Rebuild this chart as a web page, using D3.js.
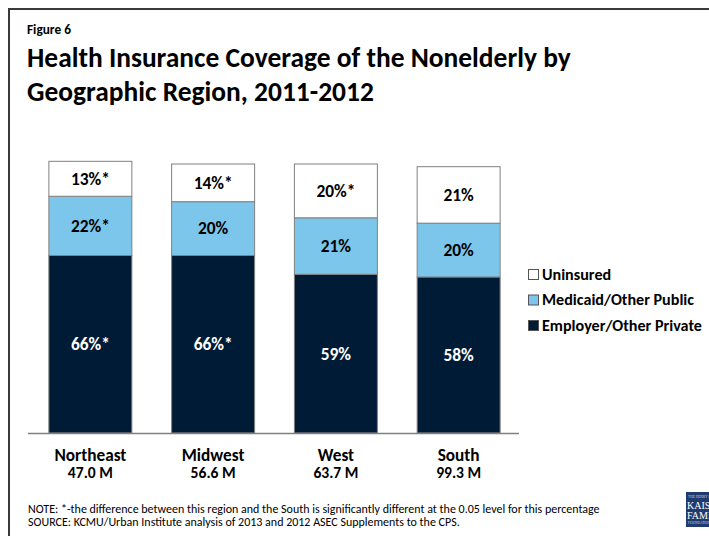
<!DOCTYPE html>
<html>
<head>
<meta charset="utf-8">
<script src="https://cdn.jsdelivr.net/npm/d3@7"></script>
<style>
  html, body { margin: 0; padding: 0; background: #fff; }
  svg { display: block; font-family: Carlito, Lato, "Open Sans", sans-serif; }
</style>
</head>
<body>
<svg id="chart" width="709" height="536"></svg>
<script>
// Regions and their nonelderly population
const regions = ["Northeast", "Midwest", "West", "South"];
const populations = ["47.0 M", "56.6 M", "63.7 M", "99.3 M"];

// Coverage shares (%) per region, bottom to top
const privateShare = [66, 66, 59, 58];
const publicShare = [22, 20, 21, 20];
const uninsuredShare = [13, 14, 20, 21];

// Significance flags (difference vs. the South)
const privateFlag = ["*", "*", "", ""];
const publicFlag = ["*", "", "", ""];
const uninsuredFlag = ["*", "*", "*", ""];

const seriesNames = ["Employer/Other Private", "Medicaid/Other Public", "Uninsured"];
const legendOrder = ["Uninsured", "Medicaid/Other Public", "Employer/Other Private"];
const colors = ["#001b36", "#7cc6ec", "#ffffff"];

const svg = d3.select("#chart");

// Size a font so that a sample string spans the given width
function sizeFor(sample, width, weight) {
  const t = svg.append("text").attr("font-size", 20)
    .attr("font-weight", weight || "normal")
    .text(sample);
  const w = t.node().getComputedTextLength();
  t.remove();
  return 20 * width / w;
}

// Frame
svg.append("path")
  .attr("d", "M9,536 V9 H709")
  .attr("fill", "none")
  .attr("stroke", "#3a3a3a")
  .attr("stroke-width", 2);

// Heading
const titleLines = ["Health Insurance Coverage of the Nonelderly by", "Geographic Region, 2011-2012"];
const titleSize = sizeFor(titleLines[0], 544, "bold");
svg.append("text").attr("x", 27).attr("y", 34)
  .attr("font-size", sizeFor("Figure 6", 44, "bold")).attr("font-weight", "bold").attr("fill", "#000")
  .text("Figure 6");
titleLines.forEach((line, i) => {
  svg.append("text").attr("x", 27).attr("y", 67 + i * 34)
    .attr("font-size", titleSize).attr("font-weight", "bold").attr("fill", "#000")
    .text(line);
});

// Scales
const x = d3.scaleBand().domain(regions).range([28, 521])
  .paddingInner(0.324).paddingOuter(0.17);
const y = d3.scaleLinear().domain([0, 100]).range([433, 164]);

const rows = regions.map((r, i) => ({
  region: r,
  "Employer/Other Private": privateShare[i],
  "Medicaid/Other Public": publicShare[i],
  "Uninsured": uninsuredShare[i]
}));
const flags = [privateFlag, publicFlag, uninsuredFlag];
const stack = d3.stack().keys(seriesNames)(rows);

const layers = svg.append("g").selectAll("g")
  .data(stack).join("g")
  .attr("fill", (d, i) => colors[i]);

layers.selectAll("rect")
  .data(d => d).join("rect")
  .attr("x", d => x(d.data.region))
  .attr("width", x.bandwidth())
  .attr("y", d => y(d[1]))
  .attr("height", d => y(d[0]) - y(d[1]))
  .attr("stroke", "#808080")
  .attr("stroke-width", 1);

// Segment labels
const segSize = sizeFor("13%*", 39, "bold");
stack.forEach((layer, li) => {
  svg.append("g").selectAll("text")
    .data(layer).join("text")
    .attr("x", d => x(d.data.region) + x.bandwidth() / 2)
    .attr("y", d => (y(d[0]) + y(d[1])) / 2)
    .attr("dy", "0.34em")
    .attr("text-anchor", "middle")
    .attr("font-size", segSize).attr("font-weight", "bold")
    .attr("fill", li === 0 ? "#ffffff" : "#000000")
    .text((d, i) => (d[1] - d[0]) + "%" + flags[li][i]);
});

// Baseline axis
svg.append("line")
  .attr("x1", 28).attr("x2", 519)
  .attr("y1", y(0) + 0.5).attr("y2", y(0) + 0.5)
  .attr("stroke", "#808080").attr("stroke-width", 1.3);

// Category labels with population below
const catSize = sizeFor("Northeast", 72, "bold");
const popSize = sizeFor("47.0 M", 45, "bold");
const xAxis = svg.append("g").attr("transform", `translate(0,${y(0)})`)
  .call(d3.axisBottom(x).tickSize(0).tickPadding(0));
xAxis.attr("font-family", null).attr("font-size", null);
xAxis.select(".domain").remove();
xAxis.selectAll("text")
  .attr("y", 28).attr("dy", null)
  .attr("font-size", catSize).attr("font-weight", "bold").attr("fill", "#000");
xAxis.selectAll(".tick").append("text")
  .attr("y", 45).attr("fill", "#000")
  .attr("font-size", popSize).attr("font-weight", "bold")
  .text((d, i) => populations[i]);

// Legend
const legSize = sizeFor("Employer/Other Private", 160, "bold");
const legend = svg.append("g").attr("transform", "translate(528,269)");
legendOrder.forEach((name, i) => {
  const ci = seriesNames.indexOf(name);
  const g = legend.append("g").attr("transform", `translate(0,${i * 25.5})`);
  g.append("rect").attr("x", 0.5).attr("y", 0.5).attr("width", 10).attr("height", 10)
    .attr("fill", colors[ci]).attr("stroke", "#555").attr("stroke-width", 1);
  g.append("text").attr("x", 14).attr("y", 10.5)
    .attr("font-size", legSize).attr("font-weight", "bold").attr("fill", "#000")
    .text(name);
});

// Notes
const notes = [
  "NOTE: *-the difference between this region and the South is significantly different at the 0.05 level for this percentage",
  "SOURCE: KCMU/Urban Institute analysis of 2013 and 2012 ASEC Supplements to the CPS."
];
const noteSize = sizeFor(notes[0], 572, "normal");
notes.forEach((line, i) => {
  svg.append("text").attr("x", 28).attr("y", 513 + i * 12.5)
    .attr("font-size", noteSize).attr("fill", "#000")
    .text(line);
});

// Foundation mark
const logo = svg.append("g").attr("transform", "translate(686,492)");
logo.append("rect").attr("width", 30).attr("height", 35).attr("fill", "#1f3a6e");
logo.append("text").attr("x", 2).attr("y", 6).attr("font-size", 3.5)
  .attr("fill", "#c9d3e6").attr("font-family", "Liberation Serif, serif").text("THE HENRY J.");
logo.append("text").attr("x", 1).attr("y", 17).attr("font-size", 10)
  .attr("fill", "#ffffff").attr("font-family", "Liberation Serif, serif").text("KAISER");
logo.append("text").attr("x", 1).attr("y", 27).attr("font-size", 10)
  .attr("fill", "#ffffff").attr("font-family", "Liberation Serif, serif").text("FAMILY");
logo.append("text").attr("x", 2).attr("y", 32).attr("font-size", 3.5)
  .attr("fill", "#c9d3e6").attr("font-family", "Liberation Serif, serif").text("FOUNDATION");
</script>
</body>
</html>
